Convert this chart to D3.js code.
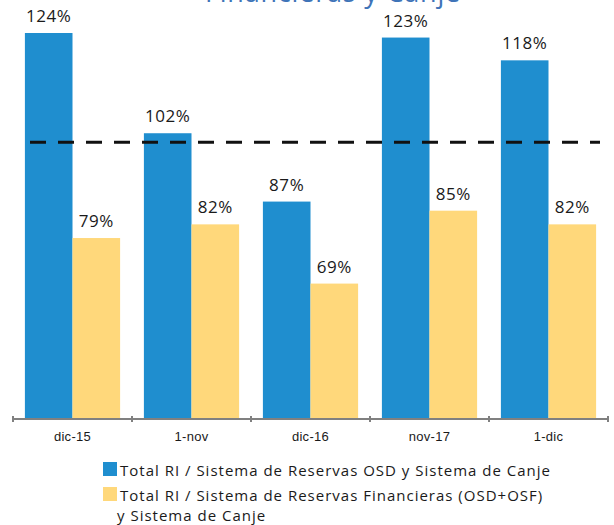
<!DOCTYPE html>
<html>
<head>
<meta charset="utf-8">
<script src="https://cdn.jsdelivr.net/npm/d3@7"></script>
<style>
  body { margin: 0; background: #fff; }
  svg { display: block; font-family: "Open Sans", sans-serif; }
  .valueLabel { font-size: 17px; font-weight: 500; fill: #1a1a1a; letter-spacing: 0.6px; }
  .x-axis text { font-size: 13px; font-weight: 500; fill: #1a1a1a; letter-spacing: 0.3px; }
  .legendText { font-size: 15px; font-weight: 500; fill: #1a1a1a; letter-spacing: 1px; }
</style>
</head>
<body>
<svg id="svgchart"></svg>
<script>
'use strict'

const categories = ['dic-15', '1-nov', 'dic-16', 'nov-17', '1-dic']
const seriesNames = [
    'Total RI / Sistema de Reservas OSD y Sistema de Canje',
    'Total RI / Sistema de Reservas Financieras (OSD+OSF)|y Sistema de Canje'
]
const osdValues = [124, 102, 87, 123, 118]
const financieraValues = [79, 82, 69, 85, 82]
const referenceLevel = 100
const colors = ['#1f8ecf', '#ffd87b']

const width = 614, height = 525
const svg = d3.select('#svgchart')
    .attr('width', width)
    .attr('height', height)

// title, mostly cut off at the top like the original
svg.append('text')
    .text('Financieras y Canje')
    .attr('x', 333)
    .attr('y', 2)
    .attr('text-anchor', 'middle')
    .style('font-size', '27px')
    .style('letter-spacing', '0.8px')
    .style('fill', '#3f74b8')

const rows = categories.map((c, i) => ({ cat: c, values: [osdValues[i], financieraValues[i]] }))

const x0 = d3.scaleBand()
    .domain(categories)
    .range([13, 608])

const x1 = d3.scaleBand()
    .domain([0, 1])
    .range([x0.bandwidth() * 0.1, x0.bandwidth() * 0.9])

const y = d3.scaleLinear()
    .domain([39.5, 124])
    .range([418, 33])

const groups = svg.append('g')
    .selectAll('g')
    .data(rows)
    .enter().append('g')
    .attr('transform', (d) => 'translate(' + x0(d.cat) + ',0)')

groups.selectAll('rect')
    .data((d) => d.values)
    .enter().append('rect')
    .attr('x', (d, i) => x1(i))
    .attr('width', x1.bandwidth())
    .attr('y', (d) => y(d))
    .attr('height', (d) => y.range()[0] - y(d))
    .attr('fill', (d, i) => colors[i])

groups.selectAll('.valueLabel')
    .data((d) => d.values)
    .enter().append('text')
    .classed('valueLabel', true)
    .attr('x', (d, i) => x1(i) + x1.bandwidth() / 2)
    .attr('y', (d) => y(d) - 11)
    .attr('text-anchor', 'middle')
    .text((d) => d + '%')

// 100% reference line
svg.append('line')
    .attr('x1', 30)
    .attr('x2', 600)
    .attr('y1', y(referenceLevel))
    .attr('y2', y(referenceLevel))
    .attr('stroke', '#111')
    .attr('stroke-width', 3)
    .attr('stroke-dasharray', '16,12')

const xAxis = svg.append('g')
    .classed('x-axis', true)
    .attr('transform', 'translate(0,419)')
    .call(d3.axisBottom(x0).tickSize(0).tickPadding(13))
xAxis.select('.domain').attr('stroke', '#808080').attr('stroke-width', 2)
    .attr('d', 'M13,0H608')
xAxis.append('g')
    .selectAll('line')
    .data(categories.concat(['end']))
    .enter().append('line')
    .attr('x1', (d, i) => i < categories.length ? x0(d) : x0.range()[1])
    .attr('x2', (d, i) => i < categories.length ? x0(d) : x0.range()[1])
    .attr('y1', -3)
    .attr('y2', 3)
    .attr('stroke', '#808080')
    .attr('stroke-width', 2)

// legend
const legend = svg.append('g').attr('transform', 'translate(103,462)')
seriesNames.forEach((name, i) => {
    const item = legend.append('g').attr('transform', 'translate(0,' + i * 25 + ')')
    item.append('rect')
        .attr('width', 14)
        .attr('height', 14)
        .attr('fill', colors[i])
    name.split('|').forEach((line, j) => {
        item.append('text')
            .classed('legendText', true)
            .attr('x', j === 0 ? 17 : 14)
            .attr('y', 14 + j * 20)
            .text(line)
    })
})
</script>
</body>
</html>
